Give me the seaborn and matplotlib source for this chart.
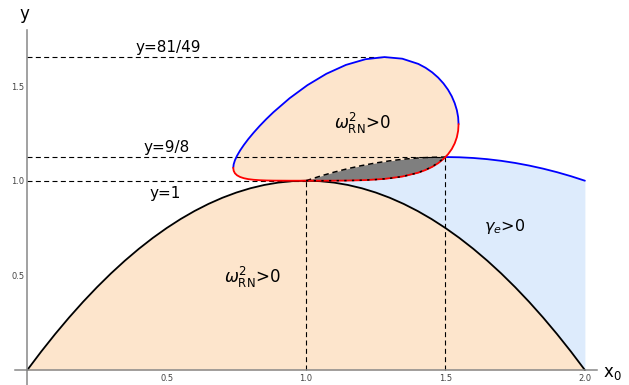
import matplotlib
matplotlib.use("Agg")
import matplotlib.pyplot as plt
import seaborn as sns
from matplotlib.ticker import FixedLocator

# ---------------- data ----------------
# horizon curve (black)
x_hor = [0.00, 0.05, 0.10, 0.15, 0.20, 0.25, 0.30, 0.35, 0.40, 0.45, 0.50,
         0.55, 0.60, 0.65, 0.70, 0.75, 0.80, 0.85, 0.90, 0.95, 1.00,
         1.05, 1.10, 1.15, 1.20, 1.25, 1.30, 1.35, 1.40, 1.45, 1.50,
         1.55, 1.60, 1.65, 1.70, 1.75, 1.80, 1.85, 1.90, 1.95, 2.00]
y_hor = [0.0, 0.0975, 0.19, 0.2775, 0.36, 0.4375, 0.51, 0.5775, 0.64, 0.6975, 0.75,
         0.7975, 0.84, 0.8775, 0.91, 0.9375, 0.96, 0.9775, 0.99, 0.9975, 1.0,
         0.9975, 0.99, 0.9775, 0.96, 0.9375, 0.91, 0.8775, 0.84, 0.7975, 0.75,
         0.6975, 0.64, 0.5775, 0.51, 0.4375, 0.36, 0.2775, 0.19, 0.0975, 0.0]

# gamma_e boundary (dashed black for x<1.5, blue for x>1.5)
x_ph = [1.00, 1.05, 1.10, 1.15, 1.20, 1.25, 1.30, 1.35, 1.40, 1.45, 1.50,
        1.55, 1.60, 1.65, 1.70, 1.75, 1.80, 1.85, 1.90, 1.95, 2.00]
y_ph = [1.0, 1.02375, 1.045, 1.06375, 1.08, 1.09375, 1.105, 1.11375, 1.12, 1.12375, 1.125,
        1.12375, 1.12, 1.11375, 1.105, 1.09375, 1.08, 1.06375, 1.045, 1.02375, 1.0]

# omega^2 = 0 loop: upper branch (blue) and lower branch (red)
x_loop = [0.7388, 0.7403, 0.7449, 0.7526, 0.7632, 0.7767, 0.7929, 0.8119, 0.8333, 0.8571,
          0.8831, 0.9408, 1.0047, 1.0727, 1.1429, 1.2130, 1.2811, 1.3449, 1.4026, 1.4286,
          1.4524, 1.4738, 1.4928, 1.5091, 1.5226, 1.5331, 1.5408, 1.5454, 1.5469]
y_loop_up = [1.0682, 1.0868, 1.1082, 1.1324, 1.1593, 1.1886, 1.2203, 1.2538, 1.2890, 1.3253,
             1.3621, 1.4355, 1.5046, 1.5647, 1.6116, 1.6417, 1.6530, 1.6445, 1.6169, 1.5965,
             1.5722, 1.5445, 1.5137, 1.4806, 1.4457, 1.4094, 1.3726, 1.3356, 1.2991]
y_loop_lo = [1.0682, 1.0524, 1.0391, 1.0283, 1.0198, 1.0132, 1.0083, 1.0049, 1.0027, 1.0013,
             1.0005, 1.0000, 1.0000, 1.0000, 1.0007, 1.0032, 1.0096, 1.0220, 1.0426, 1.0566,
             1.0732, 1.0926, 1.1148, 1.1397, 1.1673, 1.1973, 1.2296, 1.2636, 1.2991]

# gray overlap region (lower boundary = loop's lower branch on 1 <= x <= 1.5)
x_gray = [1.00, 1.05, 1.10, 1.15, 1.20, 1.25, 1.30, 1.35, 1.40, 1.45, 1.50]
y_gray_lo = [1.0, 1.00001, 1.00017, 1.00082, 1.00251, 1.00601, 1.01241, 1.02334, 1.04138, 1.07133, 1.125]

# reference (dashed) lines and their labels
hline_y = [81 / 49, 9 / 8, 1.0]
hline_end = [9 / 7, 1.5, 1.0]
hline_labels = ["y=81/49", "y=9/8", "y=1"]
hline_label_pos = [(0.505, 1.706), (0.50, 1.178), (0.495, 0.935)]
vline_x = [1.0, 1.5]
vline_top = [1.0, 9 / 8]

x_ticks = [0.5, 1.0, 1.5, 2.0]
x_tick_labels = ["0.5", "1.0", "1.5", "2.0"]
y_ticks = [0.5, 1.0, 1.5]
y_tick_labels = ["0.5", "1.0", "1.5"]
minor_x = [0.1, 0.2, 0.3, 0.4, 0.6, 0.7, 0.8, 0.9, 1.1, 1.2, 1.3, 1.4, 1.6, 1.7, 1.8, 1.9]
minor_y = [0.1, 0.2, 0.3, 0.4, 0.6, 0.7, 0.8, 0.9, 1.1, 1.2, 1.3, 1.4, 1.6, 1.7]

# ---------------- styling ----------------
sns.set_theme(style="white")
plt.rcParams["font.family"] = ["DejaVu Sans"]
plt.rcParams["mathtext.fontset"] = "dejavusans"
plt.rcParams["text.color"] = "black"

PEACH = "#FDE5CC"
LBLUE = "#DDEBFC"
GRAY = "#7F7F7F"

fig = plt.figure(figsize=(6.29, 3.85), dpi=100)
ax = fig.add_axes([15 / 629, 0, 581.6 / 629, 355 / 385])
ax.set_facecolor("white")
ax.set_xlim(-0.044, 2.042)
ax.set_ylim(-0.079, 1.796)

# fills
ax.fill_between(x_hor, 0, y_hor, color=PEACH, lw=0, zorder=1)
ax.fill_between(x_ph, y_hor[20:], y_ph, color=LBLUE, lw=0, zorder=1)
ax.fill(x_loop + x_loop[::-1], y_loop_up + y_loop_lo[::-1], color=PEACH, lw=0, zorder=1.2)
n_g = len(x_gray)
ax.fill_between(x_gray, y_gray_lo, y_ph[:n_g], color=GRAY, lw=0, zorder=1.4)

# reference dashed lines
ax.hlines(hline_y, 0, hline_end, colors="black", linestyles=(0, (4.5, 3)), lw=0.8, zorder=2)
ax.vlines(vline_x, 0, vline_top, colors="black", linestyles=(0, (4.5, 3)), lw=0.8, zorder=2)

# curves
sns.lineplot(x=x_hor, y=y_hor, ax=ax, color="black", lw=1.3, sort=False, estimator=None, zorder=3)
sns.lineplot(x=x_ph[n_g - 1:], y=y_ph[n_g - 1:], ax=ax, color="#0000FF", lw=1.3,
             sort=False, estimator=None, zorder=3)
ax.plot(x_ph[:n_g], y_ph[:n_g], color="black", lw=1.1, dashes=(3.5, 2.5), zorder=3)
sns.lineplot(x=x_loop, y=y_loop_up, ax=ax, color="#0000FF", lw=1.3, sort=False, estimator=None, zorder=3)
sns.lineplot(x=x_loop, y=y_loop_lo, ax=ax, color="#FF0000", lw=1.3, sort=False, estimator=None, zorder=3)
ax.plot(x_gray, y_gray_lo, color="black", lw=1.1, dashes=(1.5, 3.5), zorder=3.5)

# labels
for lab, (tx, ty) in zip(hline_labels, hline_label_pos):
    ax.text(tx, ty, lab, fontsize=11, ha="center", va="center", color="black", zorder=4)
ax.text(1.202, 1.30, r"$\omega^2_{\mathrm{RN}}$>0", fontsize=12, ha="center", va="center",
        color="black", zorder=4)
ax.text(0.808, 0.49, r"$\omega^2_{\mathrm{RN}}$>0", fontsize=12, ha="center", va="center",
        color="black", zorder=4)
ax.text(1.713, 0.76, r"$\gamma_e$>0", fontsize=11.5, ha="center", va="center",
        color="black", zorder=4)

ax.text(-0.012, 1.88, "y", fontsize=12, ha="center", va="center", color="black", clip_on=False)
ax.text(2.097, -0.016, r"$\mathrm{x}_0$", fontsize=12, ha="center", va="center",
        color="black", clip_on=False)

# axes through the origin, Mathematica style
for s in ["top", "right"]:
    ax.spines[s].set_visible(False)
ax.spines["left"].set_position(("data", 0))
ax.spines["bottom"].set_position(("data", 0))
for s in ["left", "bottom"]:
    ax.spines[s].set_color("#888888")
    ax.spines[s].set_linewidth(1.1)
    ax.spines[s].set_zorder(5)

ax.xaxis.set_major_locator(FixedLocator(x_ticks))
ax.yaxis.set_major_locator(FixedLocator(y_ticks))
ax.set_xticklabels(x_tick_labels)
ax.set_yticklabels(y_tick_labels)
ax.xaxis.set_minor_locator(FixedLocator(minor_x))
ax.yaxis.set_minor_locator(FixedLocator(minor_y))
ax.tick_params(which="both", direction="in", color="#333333", width=0.7,
               labelsize=6, labelcolor="#444444")
ax.tick_params(which="major", length=3.6)
ax.tick_params(which="minor", length=2.0)
ax.tick_params(axis="x", which="major", pad=3)
ax.tick_params(axis="y", which="major", pad=2)
ax.set_xlabel("")
ax.set_ylabel("")

fig.savefig("out.png", dpi=100)
